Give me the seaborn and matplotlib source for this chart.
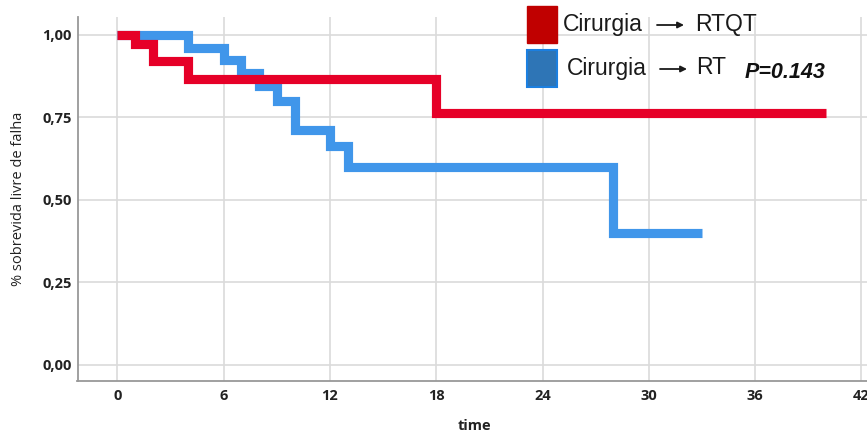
import matplotlib
matplotlib.use("Agg")
import matplotlib.pyplot as plt
from matplotlib.patches import Rectangle
import seaborn as sns
import pandas as pd

# ---- data ----
group_names = ["Cirurgia → RT", "Cirurgia → RTQT"]
rt_time = [0, 4, 6, 7, 8, 9, 10, 12, 13, 28, 33]
rt_surv = [1.00, 0.961, 0.923, 0.885, 0.846, 0.801, 0.712, 0.662, 0.600, 0.400, 0.400]
rtqt_time = [0, 1, 2, 4, 18, 40]
rtqt_surv = [1.00, 0.974, 0.921, 0.866, 0.763, 0.763]
x_ticks = [0, 6, 12, 18, 24, 30, 36, 42]
y_ticks = [0.00, 0.25, 0.50, 0.75, 1.00]
y_tick_labels = ["0,00", "0,25", "0,50", "0,75", "1,00"]
p_text = "P=0.143"

df = pd.concat([
    pd.DataFrame({"time": rt_time, "surv": rt_surv, "grupo": group_names[0]}),
    pd.DataFrame({"time": rtqt_time, "surv": rtqt_surv, "grupo": group_names[1]}),
], ignore_index=True)

sns.set_style("white")
plt.rcParams["font.family"] = ["Open Sans", "DejaVu Sans"]

W, H = 867, 436
fig = plt.figure(figsize=(W / 100, H / 100), dpi=100)
ax = fig.add_axes([77.5 / W, 1 - 381 / H, (872 - 77.5) / W, (381 - 17) / H])

palette = {group_names[0]: "#4096EA", group_names[1]: "#E60028"}
sns.lineplot(data=df, x="time", y="surv", hue="grupo", hue_order=group_names,
             palette=palette, estimator=None, sort=False, drawstyle="steps-post",
             linewidth=6.6, legend=False, ax=ax,
             solid_joinstyle="miter", solid_capstyle="butt")

ax.set_xlim(-2.25, 42.6)
ax.set_ylim(-0.050, 1.0546)
ax.set_xticks(x_ticks)
ax.set_yticks(y_ticks)
ax.set_yticklabels(y_tick_labels)
ax.grid(True, color="#DADADA", linewidth=1.2)
ax.set_axisbelow(True)
for s in ["top", "right"]:
    ax.spines[s].set_visible(False)
for s in ["left", "bottom"]:
    ax.spines[s].set_color("#999999")
    ax.spines[s].set_linewidth(1.3)
ax.tick_params(axis="both", length=0, labelsize=10.5, colors="#222222")
ax.tick_params(axis="y", pad=4)
ax.tick_params(axis="x", pad=6)
for lab in ax.get_xticklabels() + ax.get_yticklabels():
    lab.set_fontweight("bold")
ax.set_xlabel("time", fontsize=10.5, fontweight="bold", color="#222222", labelpad=11)
ax.set_ylabel("% sobrevida livre de falha", fontsize=10.5, color="#222222", labelpad=12)

# ---- legend drawn as figure elements ----
def fx(px):
    return px / W

def fy(py):
    return 1 - py / H

fig.add_artist(Rectangle((fx(527), fy(43)), 30 / W, 37 / H, transform=fig.transFigure,
                         facecolor="#C00000", edgecolor="#C00000", linewidth=1))
fig.add_artist(Rectangle((fx(527), fy(87)), 30 / W, 37 / H, transform=fig.transFigure,
                         facecolor="#2E75B6", edgecolor="#1B7FE0", linewidth=1.5))

leg_font = ["Liberation Sans", "DejaVu Sans"]
lsize = 16.5
txt_col = "#1a1a1a"
fig.text(fx(563), fy(24), "Cirurgia", fontsize=lsize, family=leg_font, ha="left", va="center", color=txt_col)
fig.text(fx(695), fy(24), "RTQT", fontsize=lsize, family=leg_font, ha="left", va="center", color=txt_col)
fig.text(fx(567), fy(68), "Cirurgia", fontsize=lsize, family=leg_font, ha="left", va="center", color=txt_col)
fig.text(fx(696), fy(68), "RT", fontsize=lsize, family=leg_font, ha="left", va="center", color=txt_col)
for (x0, x1, yy) in [(657, 684, 25), (660, 687, 69)]:
    ax.annotate("", xy=(fx(x1), fy(yy)), xytext=(fx(x0), fy(yy)),
                xycoords="figure fraction", textcoords="figure fraction",
                arrowprops=dict(arrowstyle="-|>", lw=1.3, color=txt_col,
                                mutation_scale=9, shrinkA=0, shrinkB=0),
                annotation_clip=False)
fig.text(fx(745), fy(72), p_text, fontsize=15.5, family=leg_font, fontweight="bold",
         fontstyle="italic", ha="left", va="center", color="#111111")

fig.savefig("out.png", dpi=100)
